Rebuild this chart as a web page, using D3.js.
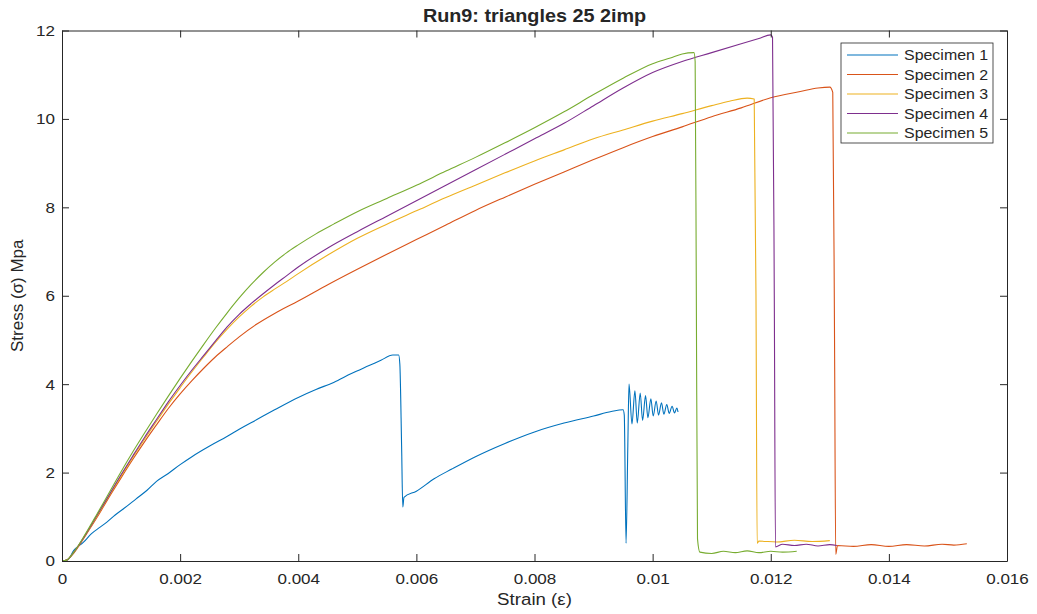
<!DOCTYPE html>
<html>
<head>
<meta charset="utf-8">
<script src="https://cdn.jsdelivr.net/npm/d3@7"></script>
<style>
  body { margin: 0; background: #ffffff; }
  text { font-family: "Liberation Sans", Arial, Helvetica, sans-serif; fill: #262626; }
</style>
</head>
<body>
<svg id="chart" width="1037" height="614"></svg>
<script>
// Stress–strain records, [strain, stress MPa]
const specimen1 = [
  [0,0],[0.0001,0.03],[0.0002,0.24],[0.00036,0.42],[0.0005,0.62],[0.00064,0.76],[0.00076,0.88],
  [0.0009,1.04],[0.0011,1.24],[0.00125,1.4],[0.00144,1.6],[0.0016,1.8],[0.0018,1.98],[0.002,2.18],
  [0.0022,2.36],[0.0025,2.6],[0.0028,2.82],[0.003,2.98],[0.0033,3.2],[0.0036,3.42],[0.004,3.7],
  [0.0043,3.88],[0.0046,4.04],[0.0049,4.24],[0.0052,4.42],[0.0054,4.54],[0.0056,4.66],[0.0057,4.66],
  [0.00572,4.45],[0.00575,2.6],[0.00577,1.22],[0.00579,1.44],[0.006,1.58],[0.0063,1.86],[0.0066,2.08],
  [0.007,2.36],[0.0075,2.66],[0.008,2.92],[0.0085,3.12],[0.009,3.28],[0.0093,3.38],[0.0095,3.42],
  [0.00952,3.3],[0.00955,0.4],[0.00958,2.6],[0.0096,4.0],[0.00965,3.1],[0.0097,3.85],[0.00974,3.12],
  [0.00979,3.8],[0.00983,3.18],[0.00988,3.74],[0.00992,3.24],[0.00997,3.67],[0.01001,3.28],
  [0.01006,3.62],[0.0101,3.3],[0.01015,3.58],[0.01019,3.32],[0.01024,3.54],[0.01028,3.34],
  [0.01033,3.5],[0.01037,3.35],[0.01041,3.46],[0.01043,3.37]
];
const specimen2 = [
  [0,0],[0.00008,0.02],[0.0002,0.18],[0.0004,0.58],[0.0006,1.0],[0.0008,1.45],[0.001,1.88],
  [0.0012,2.3],[0.0014,2.7],[0.0016,3.08],[0.0018,3.45],[0.002,3.78],[0.0022,4.08],[0.0024,4.36],
  [0.0026,4.62],[0.0028,4.85],[0.003,5.07],[0.0033,5.36],[0.0036,5.6],[0.004,5.88],[0.0045,6.25],
  [0.005,6.6],[0.0055,6.94],[0.006,7.27],[0.0065,7.6],[0.007,7.93],[0.0075,8.23],[0.008,8.52],
  [0.0085,8.8],[0.009,9.08],[0.0095,9.35],[0.01,9.6],[0.0105,9.82],[0.011,10.05],[0.0115,10.25],
  [0.012,10.48],[0.0125,10.62],[0.0128,10.7],[0.013,10.72],[0.01305,10.6],[0.01308,5.0],[0.0131,0.15],
  [0.01313,0.35],[0.0134,0.33],[0.0137,0.37],[0.014,0.33],[0.0143,0.37],[0.0146,0.34],[0.0149,0.38],
  [0.0151,0.36],[0.01532,0.39]
];
const specimen3 = [
  [0,0],[0.00008,0.02],[0.0002,0.2],[0.0004,0.6],[0.0006,1.03],[0.0008,1.48],[0.001,1.92],
  [0.0012,2.35],[0.0014,2.76],[0.0016,3.16],[0.0018,3.55],[0.002,3.92],[0.0022,4.28],[0.0024,4.62],
  [0.0026,4.95],[0.0028,5.25],[0.003,5.52],[0.0032,5.76],[0.0034,5.97],[0.0036,6.15],[0.0038,6.32],
  [0.004,6.5],[0.0045,6.92],[0.005,7.3],[0.0055,7.62],[0.006,7.92],[0.0065,8.22],[0.007,8.5],
  [0.0075,8.78],[0.008,9.05],[0.0085,9.3],[0.009,9.55],[0.0095,9.75],[0.01,9.95],[0.0105,10.12],
  [0.011,10.3],[0.0113,10.4],[0.0116,10.47],[0.01172,10.45],[0.01175,6.0],[0.01177,0.4],
  [0.0118,0.45],[0.0121,0.43],[0.0124,0.47],[0.0127,0.44],[0.013,0.46]
];
const specimen4 = [
  [0,0],[0.00008,0.02],[0.0002,0.2],[0.0004,0.6],[0.0006,1.05],[0.0008,1.5],[0.001,1.95],
  [0.0012,2.38],[0.0014,2.8],[0.0016,3.2],[0.0018,3.6],[0.002,3.97],[0.0022,4.32],[0.0024,4.65],
  [0.0026,4.98],[0.0028,5.3],[0.003,5.58],[0.0032,5.82],[0.0034,6.04],[0.0036,6.25],[0.0038,6.45],
  [0.004,6.65],[0.0045,7.08],[0.005,7.45],[0.0055,7.8],[0.006,8.15],[0.0065,8.5],[0.007,8.85],
  [0.0075,9.2],[0.008,9.55],[0.0085,9.9],[0.009,10.3],[0.0095,10.7],[0.01,11.05],[0.0105,11.3],
  [0.011,11.5],[0.0115,11.7],[0.0118,11.82],[0.012,11.9],[0.01203,11.85],[0.01206,6.0],[0.01208,0.32],
  [0.0122,0.38],[0.0124,0.35],[0.0126,0.38],[0.0128,0.34],[0.013,0.37],[0.01312,0.35]
];
const specimen5 = [
  [0,0],[0.00008,0.02],[0.0002,0.2],[0.0004,0.62],[0.0006,1.08],[0.0008,1.55],[0.001,2.02],
  [0.0012,2.47],[0.0014,2.9],[0.0016,3.32],[0.0018,3.73],[0.002,4.13],[0.0022,4.52],[0.0024,4.9],
  [0.0026,5.27],[0.0028,5.62],[0.003,5.95],[0.0032,6.25],[0.0034,6.52],[0.0036,6.76],[0.0038,6.97],
  [0.004,7.15],[0.0043,7.4],[0.0046,7.62],[0.005,7.9],[0.0055,8.2],[0.006,8.5],[0.0065,8.82],
  [0.007,9.13],[0.0075,9.46],[0.008,9.8],[0.0085,10.16],[0.009,10.55],[0.0095,10.92],[0.01,11.25],
  [0.0103,11.38],[0.0105,11.47],[0.0107,11.5],[0.01072,11.3],[0.01074,6.0],[0.01076,0.5],
  [0.0108,0.2],[0.011,0.17],[0.0112,0.22],[0.0114,0.19],[0.0116,0.23],[0.0118,0.19],[0.012,0.22],
  [0.0122,0.2],[0.01244,0.22]
];

const seriesNames = ["Specimen 1", "Specimen 2", "Specimen 3", "Specimen 4", "Specimen 5"];
const seriesColors = ["#0072BD", "#D95319", "#EDB120", "#7E2F8E", "#77AC30"];
const seriesData = [specimen1, specimen2, specimen3, specimen4, specimen5];

const xTicks = [0, 0.002, 0.004, 0.006, 0.008, 0.01, 0.012, 0.014, 0.016];
const xTickLabels = ["0", "0.002", "0.004", "0.006", "0.008", "0.01", "0.012", "0.014", "0.016"];
const yTicks = [0, 2, 4, 6, 8, 10, 12];

const chartTitle = "Run9: triangles 25 2imp";
const xLabel = "Strain (ε)";
const yLabel = "Stress (σ) Mpa";

const svg = d3.select("#chart");
const plot = { left: 62, right: 1007, top: 30.5, bottom: 561 };

const x = d3.scaleLinear().domain([0, 0.016]).range([plot.left, plot.right]);
const y = d3.scaleLinear().domain([0, 12]).range([plot.bottom, plot.top]);

const axisColor = "#262626";
const tickFont = 15.5;
const wide = 1.1; // horizontal text widening

// Curves
const line = d3.line().x(d => x(d[0])).y(d => y(d[1])).curve(d3.curveMonotoneX);
svg.append("g").selectAll("path")
  .data(seriesData)
  .join("path")
  .attr("d", line)
  .attr("fill", "none")
  .attr("stroke", (d, i) => seriesColors[i])
  .attr("stroke-width", 1.1)
  .attr("stroke-linejoin", "round");

// Axes with inward ticks on all four sides
function styleAxis(g) {
  g.select(".domain").attr("stroke", axisColor).attr("stroke-width", 1);
  g.selectAll(".tick line").attr("stroke", axisColor).attr("stroke-width", 1);
  g.selectAll(".tick text").attr("fill", axisColor).style("font-size", tickFont + "px")
    .style("font-family", '"Liberation Sans", Arial, sans-serif');
}

svg.append("g").attr("transform", `translate(0,${plot.bottom})`)
  .call(d3.axisBottom(x).tickValues(xTicks).tickFormat((d, i) => xTickLabels[i])
    .tickSizeInner(-7).tickSizeOuter(0).tickPadding(12))
  .call(styleAxis)
  .call(g => g.selectAll(".tick text").attr("transform", `scale(${wide},1)`));

svg.append("g").attr("transform", `translate(0,${plot.top})`)
  .call(d3.axisTop(x).tickValues(xTicks).tickFormat("").tickSizeInner(-7).tickSizeOuter(0))
  .call(styleAxis);

svg.append("g").attr("transform", `translate(${plot.left},0)`)
  .call(d3.axisLeft(y).tickValues(yTicks).tickFormat(d3.format("d"))
    .tickSizeInner(-7).tickSizeOuter(0).tickPadding(7))
  .call(styleAxis)
  .call(g => g.selectAll(".tick text").attr("x", -7 / wide).attr("transform", `scale(${wide},1)`));

svg.append("g").attr("transform", `translate(${plot.right},0)`)
  .call(d3.axisRight(y).tickValues(yTicks).tickFormat("").tickSizeInner(-7).tickSizeOuter(0))
  .call(styleAxis);

// Title and axis labels
const midX = (plot.left + plot.right) / 2;
svg.append("text")
  .attr("transform", `translate(${midX},22) scale(${wide},1)`)
  .attr("text-anchor", "middle")
  .style("font-size", "18px").style("font-weight", "bold")
  .text(chartTitle);

svg.append("text")
  .attr("transform", `translate(${midX},605) scale(${wide},1)`)
  .attr("text-anchor", "middle")
  .style("font-size", "17px")
  .text(xLabel);

svg.append("text")
  .attr("transform", `translate(23,${(plot.top + plot.bottom) / 2}) rotate(-90)`)
  .attr("text-anchor", "middle")
  .style("font-size", "17px")
  .text(yLabel);

// Legend
const legend = svg.append("g");
legend.append("rect")
  .attr("x", 841).attr("y", 43).attr("width", 152).attr("height", 100)
  .attr("fill", "#ffffff").attr("stroke", "#262626").attr("stroke-width", 0.8);
const rows = legend.selectAll("g.row").data(seriesNames).join("g")
  .attr("class", "row")
  .attr("transform", (d, i) => `translate(0,${55 + i * 19.5})`);
rows.append("line")
  .attr("x1", 847).attr("x2", 898).attr("y1", 0).attr("y2", 0)
  .attr("stroke", (d, i) => seriesColors[i]).attr("stroke-width", 1.1);
rows.append("text")
  .attr("transform", `translate(904,0) scale(${wide},1)`)
  .attr("dy", "0.35em")
  .style("font-size", "14.5px")
  .text(d => d);
</script>
</body>
</html>
